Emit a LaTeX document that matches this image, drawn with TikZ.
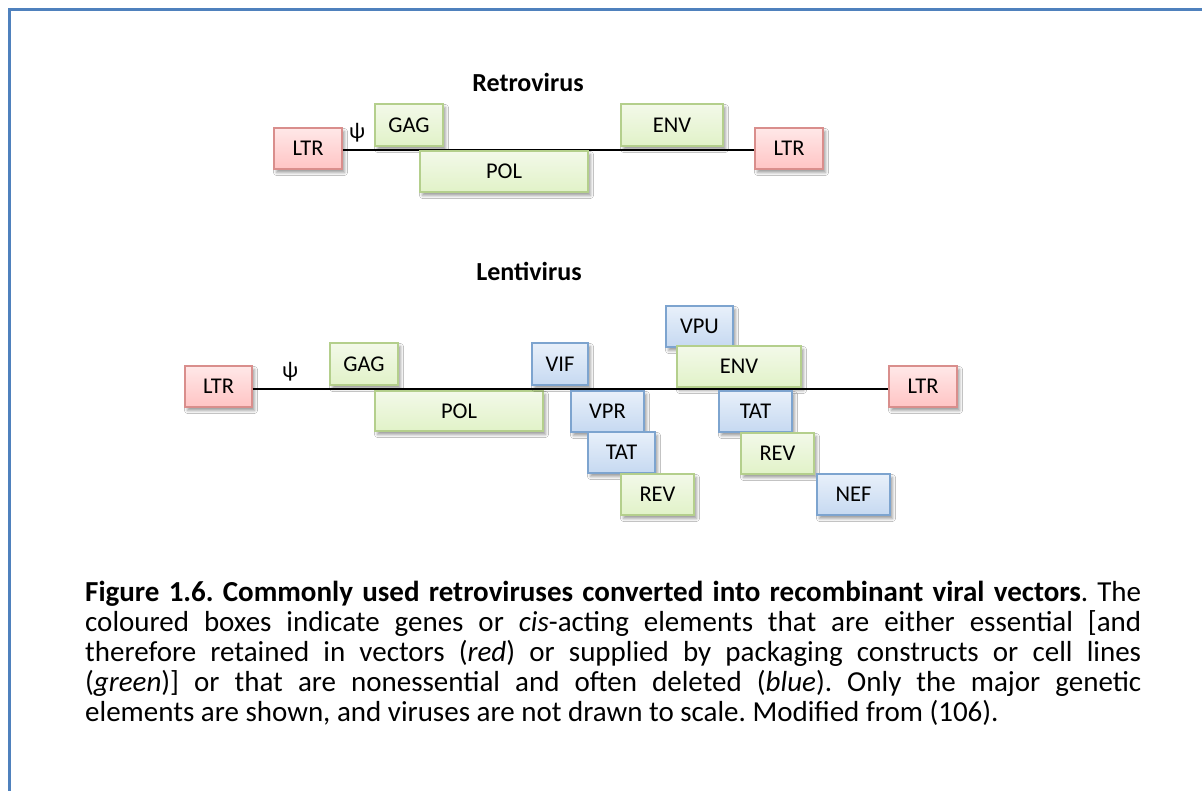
\documentclass[tikz,border=0pt]{standalone}
\usepackage{fontspec}
\setmainfont{Carlito}
\usetikzlibrary{shadows.blur}
\definecolor{frameblue}{HTML}{4F81BD}
\definecolor{redtop}{HTML}{FFE8E8}
\definecolor{redbot}{HTML}{FFC4C4}
\definecolor{redline}{HTML}{D98E8C}
\definecolor{greentop}{HTML}{F3F9E9}
\definecolor{greenbot}{HTML}{E1F2C8}
\definecolor{greenline}{HTML}{B4CF8C}
\definecolor{bluetop}{HTML}{E8F0FA}
\definecolor{bluebot}{HTML}{C6D9F1}
\definecolor{blueline}{HTML}{7DA4CF}
\newcommand{\labfont}{\fontsize{22.5}{27}\selectfont}
\newcommand{\titfont}{\fontsize{26}{31}\selectfont\bfseries}
\newcommand{\capfont}{\fontsize{29}{30}\selectfont\frenchspacing}
\tikzset{
  gene/.style={rectangle, line width=1.3pt, inner sep=0pt, font=\labfont,
    blur shadow={shadow xshift=2.5pt, shadow yshift=-3.5pt, shadow blur radius=3pt, shadow opacity=40}},
  redbox/.style={gene, draw=redline, top color=redtop, bottom color=redbot},
  greenbox/.style={gene, draw=greenline, top color=greentop, bottom color=greenbot},
  bluebox/.style={gene, draw=blueline, top color=bluetop, bottom color=bluebot},
  genome/.style={line width=2pt, black},
  ttl/.style={font=\titfont, inner sep=0pt},
  psi/.style={font=\labfont, inner sep=0pt},
}
\begin{document}
\begin{tikzpicture}[x=1pt, y=-1pt]
\useasboundingbox (0,0) rectangle (1202,791);
\fill[white] (0,0) rectangle (1202,791);
\draw[frameblue, line width=3.5pt] (9.5,791) -- (9.5,9.5) -- (1202,9.5);

% ---------- Retrovirus ----------
\node[ttl] (rtitle) at (528,82) {Retrovirus};
\node[redbox, minimum width=68pt, minimum height=41pt] (rltrA) at (308,148.5) {LTR};
\node[redbox, minimum width=68pt, minimum height=41pt] (rltrB) at (789,148.5) {LTR};
\draw[genome] (rltrA.east |- 0,150) coordinate (rs) -- (rltrB.west |- 0,150) coordinate (re);
\node[greenbox, minimum width=68pt, minimum height=42pt] (rgag) at (409,125) {GAG};
\node[greenbox, minimum width=168pt, minimum height=41pt] (rpol) at (504,171.5) {POL};
\node[greenbox, minimum width=102pt, minimum height=42pt] (renv) at (672,125) {ENV};
\node[psi] (rpsi) at (357,133) {ψ};

% ---------- Lentivirus ----------
\node[ttl] (ltitle) at (529,271) {Lentivirus};
\node[redbox, minimum width=67pt, minimum height=41pt] (lltrA) at (218.5,386.5) {LTR};
\node[redbox, minimum width=68pt, minimum height=41pt] (lltrB) at (923,386.5) {LTR};
\draw[genome] (lltrA.east |- 0,389) -- (lltrB.west |- 0,389);
\node[psi] (lpsi) at (290,372) {ψ};
\node[greenbox, minimum width=68pt, minimum height=42pt] (lgag) at (364,364) {GAG};
\node[greenbox, minimum width=168pt, minimum height=40pt] (lpol) at (459,411) {POL};
\node[bluebox, minimum width=56pt, minimum height=42pt] (lvif) at (560,364) {VIF};
\node[bluebox, minimum width=73pt, minimum height=41pt] (lvpr) at (607.5,411.5) {VPR};
\node[bluebox, minimum width=67pt, minimum height=41pt] (ltatA) at (621.5,452.5) {TAT};
\node[greenbox, minimum width=73pt, minimum height=41pt] (lrevA) at (657.5,494.5) {REV};
\node[bluebox, minimum width=67pt, minimum height=41pt] (lvpu) at (699.5,326.5) {VPU};
\node[greenbox, minimum width=124pt, minimum height=41pt] (lenv) at (739,366.5) {ENV};
\node[bluebox, minimum width=73pt, minimum height=41pt] (ltatB) at (755.5,411.5) {TAT};
\node[greenbox, minimum width=73pt, minimum height=41pt] (lrevB) at (777.5,453.5) {REV};
\node[bluebox, minimum width=73pt, minimum height=41pt] (lnef) at (853.5,494.5) {NEF};

% ---------- Caption ----------
\node[anchor=base west, inner sep=0pt] (caption) at (85,601) {\parbox[t]{1056pt}{\capfont
\hbox to\hsize{\textbf{Figure 1.6. Commonly used retroviruses converted into recombinant viral vectors}. The}
\hbox to\hsize{coloured boxes indicate genes or \textit{cis}-acting elements that are either essential [and}
\hbox to\hsize{therefore retained in vectors (\textit{red}) or supplied by packaging constructs or cell lines}
\hbox to\hsize{(\textit{green})] or that are nonessential and often deleted (\textit{blue}). Only the major genetic}
\hbox{elements are shown, and viruses are not drawn to scale. Modified from (106).}}};
\end{tikzpicture}
\end{document}
